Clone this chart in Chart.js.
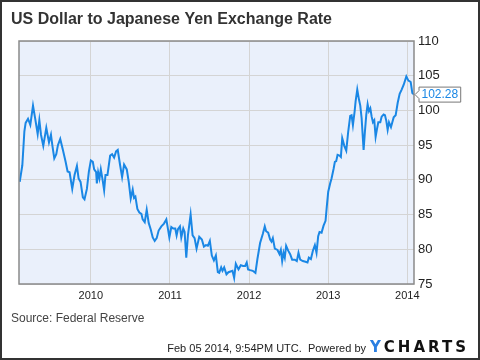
<!DOCTYPE html>
<html>
<head>
<meta charset="utf-8">
<script src="https://cdn.jsdelivr.net/npm/chart.js@4/dist/chart.umd.min.js"></script>
<style>
  html, body { margin: 0; padding: 0; background: #fff; }
  #wrap { width: 480px; height: 360px; position: relative; }
</style>
</head>
<body>
<div id="wrap"><canvas id="fx-canvas" width="480" height="360"></canvas></div>
<script>
const titleText = 'US Dollar to Japanese Yen Exchange Rate'
const sourceText = 'Source: Federal Reserve'
const stampText = 'Feb 05 2014, 9:54PM UTC.  Powered by'
const yearTicks = [2010, 2011, 2012, 2013, 2014]
const rateTicks = [75, 80, 85, 90, 95, 100, 105, 110]

// dates as decimal years
const dates = [
  2009.101, 2009.134, 2009.160, 2009.176, 2009.206, 2009.235, 2009.269, 2009.294, 2009.328, 2009.349,
  2009.370, 2009.399, 2009.437, 2009.471, 2009.496, 2009.513, 2009.538, 2009.563, 2009.584, 2009.613,
  2009.647, 2009.681, 2009.706, 2009.731, 2009.765, 2009.794, 2009.824, 2009.845, 2009.870, 2009.899,
  2009.920, 2009.950, 2009.975, 2010.000, 2010.025, 2010.042, 2010.067, 2010.076, 2010.092, 2010.109,
  2010.126, 2010.147, 2010.168, 2010.185, 2010.210, 2010.244, 2010.269, 2010.294, 2010.319, 2010.340,
  2010.370, 2010.395, 2010.420, 2010.454, 2010.479, 2010.504, 2010.529, 2010.546, 2010.563, 2010.588,
  2010.613, 2010.639, 2010.655, 2010.681, 2010.706, 2010.731, 2010.756, 2010.782, 2010.807, 2010.832,
  2010.857, 2010.891, 2010.924, 2010.954, 2010.975, 2010.992, 2011.017, 2011.042, 2011.067, 2011.084,
  2011.101, 2011.126, 2011.143, 2011.168, 2011.185, 2011.206, 2011.227, 2011.261, 2011.286, 2011.311,
  2011.336, 2011.370, 2011.403, 2011.429, 2011.454, 2011.479, 2011.504, 2011.529, 2011.555, 2011.580,
  2011.605, 2011.622, 2011.647, 2011.664, 2011.685, 2011.714, 2011.739, 2011.765, 2011.790, 2011.811,
  2011.832, 2011.866, 2011.895, 2011.924, 2011.950, 2011.970, 2011.987, 2012.013, 2012.046, 2012.080,
  2012.105, 2012.139, 2012.173, 2012.198, 2012.215, 2012.241, 2012.266, 2012.283, 2012.300, 2012.325,
  2012.359, 2012.384, 2012.401, 2012.418, 2012.435, 2012.451, 2012.468, 2012.494, 2012.519, 2012.544,
  2012.578, 2012.603, 2012.624, 2012.646, 2012.679, 2012.713, 2012.738, 2012.755, 2012.781, 2012.806,
  2012.831, 2012.852, 2012.873, 2012.890, 2012.916, 2012.941, 2012.966, 2012.983, 2013.000, 2013.025,
  2013.042, 2013.068, 2013.084, 2013.101, 2013.118, 2013.143, 2013.160, 2013.177, 2013.203, 2013.228,
  2013.253, 2013.278, 2013.295, 2013.312, 2013.333, 2013.346, 2013.367, 2013.388, 2013.405, 2013.422,
  2013.447, 2013.464, 2013.481, 2013.498, 2013.515, 2013.532, 2013.549, 2013.565, 2013.582, 2013.599,
  2013.616, 2013.633, 2013.658, 2013.675, 2013.700, 2013.717, 2013.734, 2013.751, 2013.768, 2013.793,
  2013.810, 2013.827, 2013.852, 2013.878, 2013.903, 2013.928, 2013.954, 2013.987, 2014.013, 2014.030,
  2014.042, 2014.063, 2014.084
]
const rates = [
  89.7, 92.1, 97.0, 98.2, 98.8, 97.9, 100.7, 99.0, 96.6, 98.6,
  96.5, 94.9, 97.5, 95.4, 96.5, 95.0, 93.1, 93.7, 95.0, 95.9,
  94.3, 92.6, 91.2, 91.1, 88.7, 90.7, 92.0, 90.2, 89.7, 87.5,
  87.2, 88.7, 91.2, 92.8, 92.6, 91.5, 91.1, 89.5, 91.1, 90.2,
  91.5, 90.1, 88.5, 90.7, 90.7, 93.5, 93.7, 93.2, 94.1, 94.3,
  92.1, 90.4, 92.2, 91.5, 89.7, 87.3, 88.6, 87.4, 87.6, 85.8,
  85.3, 85.1, 84.3, 83.9, 85.7, 83.8, 82.9, 81.7, 81.2, 81.6,
  82.7, 83.3, 83.7, 84.3, 82.9, 81.7, 83.2, 83.0, 83.0, 82.0,
  82.9, 83.3, 81.7, 83.0, 82.5, 78.8, 82.0, 85.0, 82.0, 81.6,
  80.1, 81.8, 81.4, 80.4, 80.6, 80.5, 81.2, 79.1, 78.4, 79.1,
  76.7, 76.6, 77.4, 76.9, 77.4, 76.4, 76.7, 76.8, 76.9, 75.9,
  77.9, 77.1, 77.7, 77.6, 77.6, 78.1, 77.1, 77.0, 76.9, 76.6,
  78.6, 80.9, 82.2, 83.3, 82.6, 82.4, 81.4, 81.1, 81.6, 80.1,
  79.9, 79.3, 79.9, 78.3, 79.5, 78.8, 80.5, 79.8, 79.3, 78.5,
  78.5, 78.3, 79.5, 78.5, 78.3, 78.2, 78.1, 78.8, 78.6, 79.8,
  80.6, 79.5, 81.9, 82.5, 82.4, 83.4, 84.1, 86.3, 88.3, 89.5,
  90.2, 91.6, 92.6, 92.7, 93.6, 93.5, 93.3, 96.0, 94.9, 94.2,
  97.0, 99.2, 99.3, 97.9, 99.8, 101.3, 103.0, 101.6, 100.7, 98.9,
  94.3, 97.0, 99.4, 100.9, 99.9, 100.3, 99.1, 98.3, 98.6, 96.2,
  97.3, 98.3, 98.3, 99.1, 99.4, 99.3, 98.5, 97.2, 98.3, 97.6,
  98.3, 99.0, 99.3, 101.1, 102.4, 103.0, 103.7, 104.9, 104.3, 104.2,
  104.1, 102.5, 102.28
]

const lineColor = '#1a87e5'
const fontFamily = '"Liberation Sans", Arial, sans-serif'

const points = []
for (let i = 0; i < dates.length; i++) {
  points.push({ x: dates[i], y: rates[i] })
}

const plotBackground = {
  id: 'plotBackground',
  beforeDraw(chart) {
    const ctx = chart.ctx
    const a = chart.chartArea
    ctx.save()
    ctx.fillStyle = '#fff'
    ctx.fillRect(0, 0, chart.width, chart.height)
    ctx.fillStyle = '#eaf0fb'
    ctx.fillRect(a.left, a.top, a.right - a.left, a.bottom - a.top)
    ctx.restore()
  }
}

const decorations = {
  id: 'decorations',
  afterDraw(chart) {
    const ctx = chart.ctx
    const a = chart.chartArea
    ctx.save()
    // plot frame
    ctx.strokeStyle = '#8a8a8a'
    ctx.lineWidth = 1.5
    ctx.strokeRect(a.left, a.top, a.right - a.left, a.bottom - a.top)

    // last value flag
    const last = rates[rates.length - 1]
    const y = chart.scales.y.getPixelForValue(last)
    const bx = a.right + 5
    ctx.font = '12px ' + fontFamily
    const label = last.toFixed(2)
    const w = ctx.measureText(label).width + 5
    ctx.beginPath()
    ctx.moveTo(a.right + 1, y)
    ctx.lineTo(bx, y - 4)
    ctx.lineTo(bx, y - 7.5)
    ctx.lineTo(bx + w, y - 7.5)
    ctx.lineTo(bx + w, y + 7.5)
    ctx.lineTo(bx, y + 7.5)
    ctx.lineTo(bx, y + 4)
    ctx.closePath()
    ctx.fillStyle = '#fff'
    ctx.fill()
    ctx.strokeStyle = '#777'
    ctx.lineWidth = 1
    ctx.stroke()
    ctx.fillStyle = lineColor
    ctx.textBaseline = 'middle'
    ctx.textAlign = 'left'
    ctx.fillText(label, bx + 2.5, y + 0.5)

    // title and footer
    ctx.fillStyle = '#333'
    ctx.font = 'bold 16px ' + fontFamily
    ctx.fillText(titleText, 11, 20)
    ctx.fillStyle = '#444'
    ctx.font = '12px ' + fontFamily
    ctx.fillText(sourceText, 11, 319)
    ctx.fillStyle = '#222'
    ctx.font = '11px ' + fontFamily
    ctx.textAlign = 'right'
    ctx.fillText(stampText, 366, 349)

    // logo
    ctx.textAlign = 'left'
    ctx.font = 'bold 15px "DejaVu Sans", sans-serif'
    ctx.letterSpacing = '3px'
    ctx.fillStyle = '#2a7fe2'
    ctx.fillText('Y', 370, 348)
    const yw = ctx.measureText('Y').width
    ctx.fillStyle = '#111'
    ctx.fillText('CHARTS', 370 + yw, 348)
    ctx.letterSpacing = '0px'

    // outer frame
    ctx.strokeStyle = '#333'
    ctx.lineWidth = 2
    ctx.strokeRect(1, 1, chart.width - 2, chart.height - 2)
    ctx.restore()
  }
}

const data = {
  datasets: [{
    label: 'USD/JPY',
    data: points,
    borderColor: lineColor,
    borderWidth: 2,
    pointRadius: 0,
    tension: 0,
    fill: false
  }]
}

const config = {
  type: 'line',
  data: data,
  options: {
    responsive: false,
    animation: false,
    layout: { padding: { left: 19, top: 41, right: 0, bottom: 57 } },
    plugins: {
      legend: { display: false },
      title: { display: false },
      tooltip: { enabled: false }
    },
    scales: {
      x: {
        type: 'linear',
        min: 2009.092,
        max: 2014.084,
        afterBuildTicks: (scale) => { scale.ticks = yearTicks.map(v => ({ value: v })) },
        afterFit: (scale) => { scale.height = 19 },
        grid: { color: '#d4d4d4', lineWidth: 1, drawTicks: false },
        border: { display: false },
        ticks: {
          color: '#222',
          font: { family: fontFamily, size: 11 },
          padding: 5,
          maxRotation: 0,
          callback: (v) => String(v)
        }
      },
      y: {
        position: 'right',
        min: 75,
        max: 110,
        afterBuildTicks: (scale) => { scale.ticks = rateTicks.map(v => ({ value: v })) },
        afterFit: (scale) => { scale.width = 66 },
        grid: { color: '#d4d4d4', lineWidth: 1, drawTicks: false },
        border: { display: false },
        ticks: {
          color: '#222',
          font: { family: fontFamily, size: 13 },
          padding: 4,
          callback: (v) => String(v)
        }
      }
    }
  },
  plugins: [plotBackground, decorations]
}

globalThis.fxChart = new Chart(document.getElementById('fx-canvas'), config)
</script>
</body>
</html>
